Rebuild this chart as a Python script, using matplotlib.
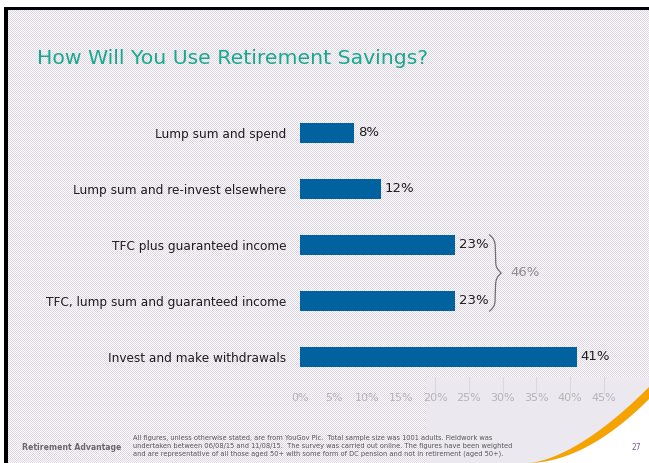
import numpy as np
import matplotlib
matplotlib.use("Agg")
import matplotlib.pyplot as plt
from matplotlib.patches import Rectangle, Polygon
import matplotlib.transforms as mtransforms

categories = [
    "Lump sum and spend",
    "Lump sum and re-invest elsewhere",
    "TFC plus guaranteed income",
    "TFC, lump sum and guaranteed income",
    "Invest and make withdrawals",
]
values = [8, 12, 23, 23, 41]
combined = 46  # the two guaranteed income rows together
ticks = [0, 5, 10, 15, 20, 25, 30, 35, 40, 45]

W, H = 649, 463
fig = plt.figure(figsize=(W / 100, H / 100), dpi=100)

# slide background: fine lavender dot texture
yy, xx = np.mgrid[0:H, 0:W]
bg = np.ones((H, W, 3))
dots = (xx + yy) % 2 == 0
bg[dots] = np.array([0xdc, 0xd4, 0xe2]) / 255
bg[:7, :] = 1.0
bg[:, :4] = 1.0
bg[7:10, 4:] = 0.0
bg[7:, 4:8] = 0.0
fig.figimage(bg, 0, 0, zorder=0)


def px(x, y):
    # pixel (from top-left) -> figure fraction
    return x / W, 1 - y / H


# lower-right panel with orange swoosh
panel = Rectangle(px(426, H), (W - 426) / W, (H - 377) / H,
                  transform=fig.transFigure, facecolor="#ece8f0",
                  edgecolor="none", zorder=1)
fig.patches.append(panel)
xs = np.linspace(528, W, 80)
t = (xs - 528) / (W - 528)
top = H - 76 * t ** 1.6
bot = H - 64 * t ** 1.9
white_pts = [px(x, y) for x, y in zip(xs, bot)] + [px(W, H)]
fig.patches.append(Polygon(white_pts, closed=True, transform=fig.transFigure,
                           facecolor="white", edgecolor="none", zorder=1))
band = [px(x, y) for x, y in zip(xs, top)] + [px(x, y) for x, y in zip(xs[::-1], bot[::-1])]
fig.patches.append(Polygon(band, closed=True, transform=fig.transFigure,
                           facecolor="#f5a300", edgecolor="none", zorder=1))

# bar chart axes
scale = 6.75
x0, x1 = 300, 300 + 48 * scale
ytop, ybot = 105, 385
ax = fig.add_axes([x0 / W, 1 - ybot / H, (x1 - x0) / W, (ybot - ytop) / H])
ax.set_facecolor("none")
ax.set_zorder(2)
pos = np.arange(len(categories))
ax.barh(pos, values, height=0.34, color="#00629e")
ax.set_xlim(0, 48)
ax.set_ylim(len(categories) - 0.5, -0.5)
ax.set_yticks(pos)
ax.set_yticklabels(categories, fontsize=8.7, color="#1e1e1e")
ax.set_xticks(ticks)
ax.set_xticklabels([f"{v}%" for v in ticks], fontsize=8, color="#b4b4b4")
ax.tick_params(length=0, axis="y", pad=10)
ax.tick_params(length=0, axis="x", pad=6)
for s in ax.spines.values():
    s.set_visible(False)

for p, v in zip(pos, values):
    ax.text(v + 0.6, p, f"{v}%", va="center", ha="left", fontsize=9.5, color="#1e1e1e")

# faint gridlines in the lower-right panel
trans = mtransforms.blended_transform_factory(ax.transData, ax.transAxes)
for v in ticks:
    if v >= 20:
        ax.plot([v, v], [-0.03, 0.03], transform=trans, color="#dcd8e0",
                lw=0.8, clip_on=False)

# curly brace grouping the two guaranteed income rows
b_top, b_bot = 1.82, 3.18
bx, bw = 28.1, 1.7
n = 200
half = np.linspace(0, 1, n)
beta = 14
h = 1 / (1 + np.exp(-beta * (half - half[0]))) + 1 / (1 + np.exp(-beta * (half - half[-1])))
h = h - h[0]
h = h / h.max()
curve = np.concatenate([h, h[::-1]])
by = np.linspace(b_top, b_bot, 2 * n)
ax.plot(bx + bw * curve, by, color="#6e6e6e", lw=0.9, clip_on=False)
ax.text(31.1, (b_top + b_bot) / 2, f"{combined}%", va="center", ha="left",
        fontsize=9.5, color="#8c8c8c")

# title and footer
fig.text(37 / W, 1 - 58 / H, "How Will You Use Retirement Savings?", fontsize=14.7,
         color="#17a98f", va="center", ha="left")
fig.text(22 / W, 1 - 448 / H, "Retirement Advantage", fontsize=5.6, fontweight="bold",
         color="#6a6a6a", va="center", ha="left")
note = ("All figures, unless otherwise stated, are from YouGov Plc.  Total sample size was 1001 adults. Fieldwork was\n"
        "undertaken between 06/08/15 and 11/08/15.  The survey was carried out online. The figures have been weighted\n"
        "and are representative of all those aged 50+ with some form of DC pension and not in retirement (aged 50+).")
fig.text(133 / W, 1 - 446 / H, note, fontsize=4.8, color="#555555", va="center",
         ha="left", linespacing=1.35)
fig.text(636 / W, 1 - 448 / H, "27", fontsize=5.5, color="#7a5a9a", va="center", ha="center")

fig.savefig("out.png", dpi=100)
